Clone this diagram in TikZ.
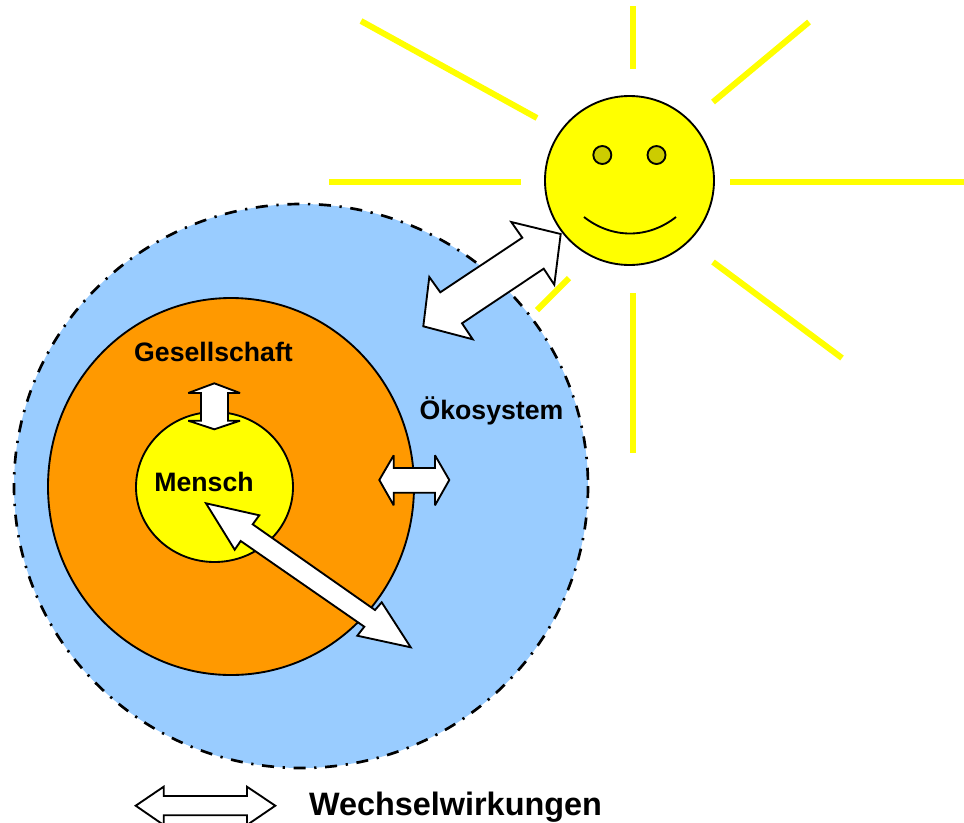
\documentclass[tikz,border=0pt]{standalone}
\usepackage{fontspec}
\setmainfont{Liberation Sans}
\definecolor{himmel}{HTML}{99CCFF}
\definecolor{orange2}{HTML}{FF9900}
\definecolor{gelb}{HTML}{FFFF00}
\definecolor{auge}{HTML}{CCCC00}
\tikzset{
  sphere/.style={draw=black,line width=1.4pt},
  ray/.style={draw=gelb,line width=4.5pt},
  doppelpfeil/.style={draw=black,fill=white,line width=1.4pt,line join=miter,miter limit=3},
  beschriftung/.style={font=\bfseries\fontsize{20}{24}\selectfont,inner sep=0pt}
}
\begin{document}
\begin{tikzpicture}[x=0.75pt,y=-0.75pt]
        \useasboundingbox (0,0) rectangle (964,822);
        \clip (0,0) rectangle (964,822);
        % Strahlen
        \draw[ray] (361,21) -- (537,118);
        \draw[ray] (633,6) -- (633,69);
        \draw[ray] (809,22) -- (713,102);
        \draw[ray] (329,181.5) -- (521,181.5);
        \draw[ray] (730,181.5) -- (964,181.5);
        \draw[ray] (537,310) -- (569,278);
        \draw[ray] (633,293) -- (633,453);
        \draw[ray] (713,262) -- (842,358);
        % Sonne
        \draw[sphere,fill=gelb] (629.5,180.5) circle [radius=84.5];
        \draw[sphere,fill=auge] (602.3,155) circle [radius=9];
        \draw[sphere,fill=auge] (656.5,155) circle [radius=9];
        \draw[sphere] (584,217) .. controls (612,239) and (648,239) .. (676,217);
        % Kreise
        \draw[sphere,fill=himmel,line width=2pt,dash pattern=on 9pt off 6.5pt on 1.7pt off 6.5pt] (301,486) ellipse [x radius=287,y radius=282];
        \draw[sphere,fill=orange2] (231,486.5) ellipse [x radius=183,y radius=188.5];
        \draw[sphere,fill=gelb] (214.5,487) ellipse [x radius=78.5,y radius=75];
        % Pfeile
        \draw[doppelpfeil] (560.7,234) -- (511.3,222) -- (522.3,237.7) -- (440.3,292.3) -- (429.3,277) -- (423.3,326.3) -- (472.7,339.3) -- (462,323.3) -- (543.7,268.7) -- (554.3,284.7) -- cycle;
        \draw[doppelpfeil] (206,503.3) -- (259.3,515.3) -- (252.7,524.3) -- (375,610) -- (381.7,602.3) -- (410.7,647.3) -- (357.3,635.7) -- (364.3,626.7) -- (240.7,541) -- (234.7,549.7) -- cycle;
        \draw[doppelpfeil] (379.3,480) -- (393.7,455.3) -- (393.7,468) -- (435,468) -- (435,455.3) -- (449.3,480) -- (435,505.3) -- (435,492.7) -- (393.7,492.7) -- (393.7,505.3) -- cycle;
        \draw[doppelpfeil] (214.3,383.3) -- (240,393) -- (228,393) -- (228,420.7) -- (240,420.7) -- (214.3,429.3) -- (188.3,420.7) -- (201,420.7) -- (201,393) -- (188.3,393) -- cycle;
        \draw[doppelpfeil] (135.7,805.7) -- (163.7,786.7) -- (163.7,796) -- (247,796) -- (247,786.7) -- (275.3,805.7) -- (247,825) -- (247,815.3) -- (163.7,815.3) -- (163.7,825) -- cycle;
        % Beschriftung
        \node[beschriftung] (gesellschaft) at (213.5,352) {Gesellschaft};
        \node[beschriftung] (oekosystem) at (491.5,410.5) {Ökosystem};
        \node[beschriftung] (mensch) at (204,482) {Mensch};
        \node[beschriftung,font=\bfseries\fontsize{24.3}{28}\selectfont] (wechsel) at (455.5,807.5) {Wechselwirkungen};
\end{tikzpicture}
\end{document}
